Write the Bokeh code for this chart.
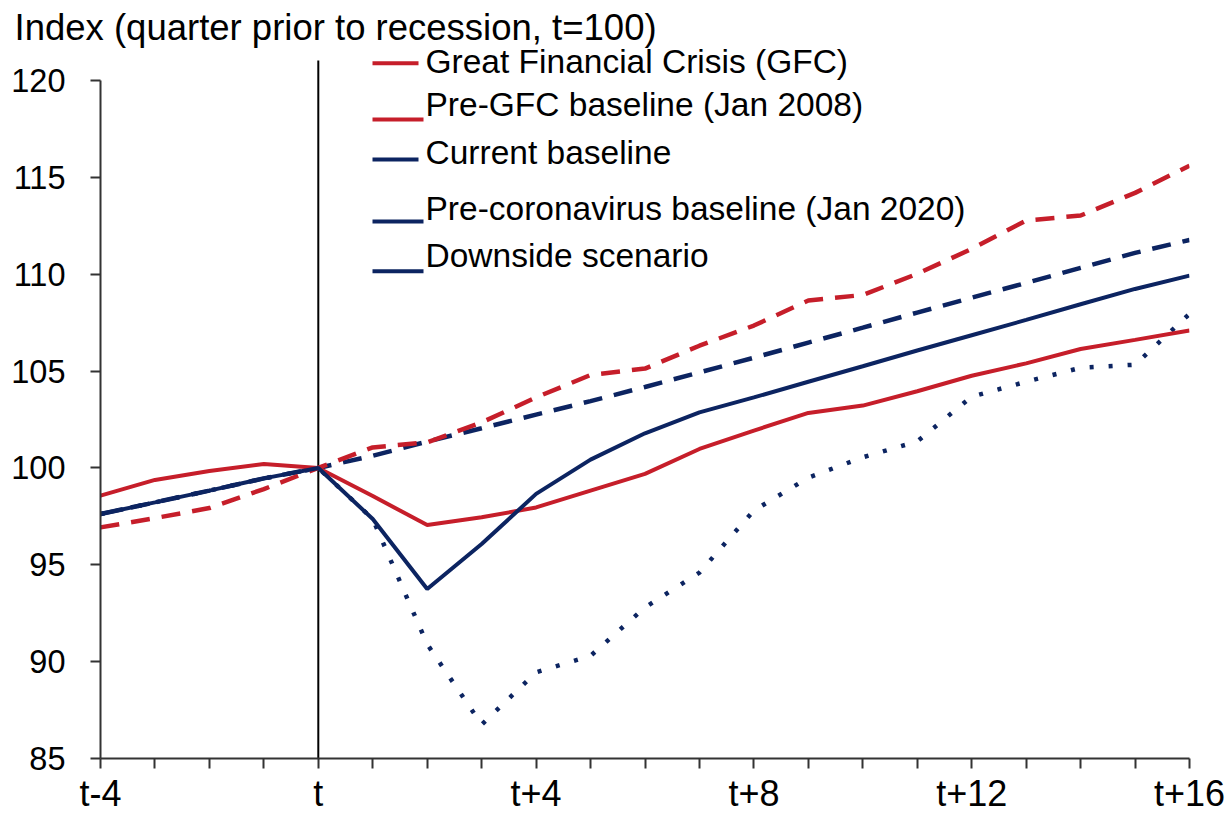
from bokeh.plotting import figure
from bokeh.models import (Range1d, FixedTicker, Label, BoxAnnotation, ColumnDataSource)
from bokeh.embed import file_html
from bokeh.resources import INLINE

# ---------------- data ----------------
quarters = list(range(-4, 17))
x_tick_labels = {-4: "t-4", 0: "t", 4: "t+4", 8: "t+8", 12: "t+12", 16: "t+16"}
y_ticks = [85, 90, 95, 100, 105, 110, 115, 120]
recession_start = [0]

gfc = [98.57, 99.38, 99.84, 100.2, 100.0, 98.55, 97.05, 97.45, 97.96, 98.83, 99.69,
       100.98, 101.93, 102.84, 103.22, 103.96, 104.76, 105.4, 106.14, 106.61, 107.09]
pre_gfc = [96.93, 97.41, 97.93, 98.91, 100.0, 101.06, 101.32, 102.35, 103.64, 104.8, 105.13,
           106.31, 107.35, 108.64, 108.93, 110.02, 111.31, 112.77, 113.03, 114.2, 115.6]
current_baseline = [97.62, 98.22, 98.83, 99.46, 100.0, 97.36, 93.75, 96.07, 98.66, 100.43, 101.79,
                    102.87, 103.64, 104.45, 105.25, 106.06, 106.85, 107.64, 108.45, 109.24, 109.93]
pre_covid = [97.62, 98.22, 98.83, 99.46, 100.0, 100.63, 101.36, 102.05, 102.75, 103.45, 104.18,
             104.93, 105.69, 106.47, 107.24, 108.02, 108.79, 109.55, 110.33, 111.1, 111.77]
downside = [97.62, 98.22, 98.83, 99.46, 100.0, 97.36, 90.9, 86.75, 89.45, 90.3, 92.8,
            94.6, 97.8, 99.5, 100.55, 101.37, 103.68, 104.45, 105.17, 105.33, 107.95]

legend_labels = ["Great Financial Crisis (GFC)", "Pre-GFC baseline (Jan 2008)", "Current baseline",
                 "Pre-coronavirus baseline (Jan 2020)", "Downside scenario"]
title_text = "Index (quarter prior to recession, t=100)"

RED = "#C61E2A"
NAVY = "#0C2461"
FONT = "Liberation Sans"

# ---------------- layout (pixels) ----------------
W, H = 1230, 817
FRAME_TOP = 48
Y_MIN, Y_MAX = 85, 120
AXIS_BOTTOM_PX, AXIS_TOP_PX = 757.7, 80.0      # canvas px of Y_MIN / Y_MAX
px_per_unit = (AXIS_BOTTOM_PX - AXIS_TOP_PX) / (Y_MAX - Y_MIN)
y_frame_top = Y_MIN + (AXIS_BOTTOM_PX - FRAME_TOP) / px_per_unit
t_line_top = Y_MAX + 20 / px_per_unit               # vertical marker rises 20px above axis

p = figure(width=W, height=H, output_backend="svg", toolbar_location=None,
           x_range=Range1d(-4, 16), y_range=Range1d(Y_MIN, y_frame_top),
           min_border_left=100, min_border_right=41, min_border_top=FRAME_TOP,
           min_border_bottom=59)
p.outline_line_color = None
p.xgrid.visible = False
p.ygrid.visible = False
p.background_fill_color = "white"
p.border_fill_color = "white"

p.title.text = title_text
p.title.align = "left"
p.title.offset = -86
p.title.standoff = 0
p.title.vertical_align = "middle"
p.title.text_font = FONT
p.title.text_font_size = "36.5px"
p.title.text_font_style = "normal"
p.title.text_color = "black"

src = ColumnDataSource(dict(q=quarters, gfc=gfc, pre_gfc=pre_gfc, cur=current_baseline,
                            pre_covid=pre_covid, down=downside))

# vertical marker at t
p.segment(x0=recession_start, y0=[Y_MIN], x1=recession_start, y1=[t_line_top],
          line_color="black", line_width=2)

p.line("q", "down", source=src, color=NAVY, line_width=4.5, line_dash="4 15", line_cap="butt")
p.line("q", "pre_covid", source=src, color=NAVY, line_width=4.5, line_dash="19 12")
p.line("q", "pre_gfc", source=src, color=RED, line_width=4.5, line_dash="19 12")
p.line("q", "gfc", source=src, color=RED, line_width=4)
p.line("q", "cur", source=src, color=NAVY, line_width=4)

# axes
xa = p.xaxis[0]
xa.ticker = FixedTicker(ticks=quarters)
xa.major_label_overrides = {q: x_tick_labels.get(q, "") for q in quarters}
xa.major_label_text_font = FONT
xa.major_label_text_font_size = "36px"
xa.major_label_text_color = "black"
xa.major_label_standoff = 4
xa.major_tick_out = 10
xa.major_tick_in = 0
xa.minor_tick_out = 0
xa.minor_tick_in = 0
xa.axis_line_width = 2
xa.axis_line_color = "#333333"
xa.major_tick_line_width = 2
xa.major_tick_line_color = "#333333"

ya = p.yaxis[0]
ya.ticker = FixedTicker(ticks=y_ticks)
ya.bounds = (Y_MIN, Y_MAX)
ya.major_label_text_font = FONT
ya.major_label_text_font_size = "32.5px"
ya.major_label_text_color = "black"
ya.major_label_standoff = 25
ya.major_tick_out = 10
ya.major_tick_in = 0
ya.minor_tick_out = 0
ya.minor_tick_in = 0
ya.axis_line_width = 2
ya.axis_line_color = "#333333"
ya.major_tick_line_width = 2
ya.major_tick_line_color = "#333333"

# legend (custom, samples placed as in reference)
leg_text_y = [60.9, 104.2, 151.7, 207.5, 254.5]
leg_line_y = [62.7, 119, 159, 221, 270.7]
leg_line_right = [418, 423, 418, 423, 423]
leg_colors = [RED, RED, NAVY, NAVY, NAVY]
for lab, ty, ly, lr, c in zip(legend_labels, leg_text_y, leg_line_y, leg_line_right, leg_colors):
    p.add_layout(BoxAnnotation(left=372, right=lr, top=ly - 2, bottom=ly + 2,
                               left_units="canvas", right_units="canvas",
                               top_units="canvas", bottom_units="canvas",
                               fill_color=c, fill_alpha=1, line_color=None))
    p.add_layout(Label(x=425, y=ty, x_units="canvas", y_units="canvas", text=lab,
                       text_font=FONT, text_font_size="33.5px", text_color="black",
                       text_baseline="middle"))

open("out.html", "w").write(file_html(p, INLINE))
